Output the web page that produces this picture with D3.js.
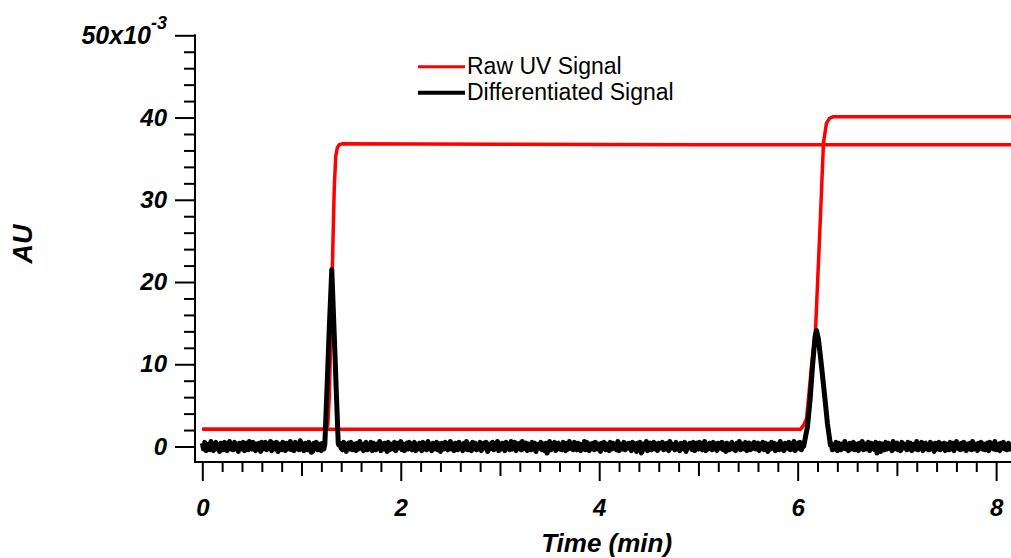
<!DOCTYPE html>
<html>
<head>
<meta charset="utf-8">
<script src="https://cdn.jsdelivr.net/npm/d3@7"></script>
<style>
  html, body { margin: 0; padding: 0; background: #fff; }
  svg { display: block; }
  .tick text { font-family: "Liberation Sans", Arial, sans-serif; font-weight: bold; font-style: italic; font-size: 24px; fill: #000; }
</style>
</head>
<body>
<svg id="chart" width="1011" height="558"></svg>
<script>
// ---------------- data ----------------
const seriesNames = ["Raw UV Signal", "Differentiated Signal"];

// Raw UV signal, trace 1 (step near 1.3 min)
const raw1Time  = [0, 1.25, 1.265, 1.28, 1.30, 1.315, 1.33, 1.345, 1.36, 1.38, 1.41, 3.0, 5.0, 8.15];
const raw1Value = [2.1, 2.1, 2.6, 6.0, 16.0, 24.0, 31.5, 35.3, 36.3, 36.7, 36.8, 36.75, 36.7, 36.7];

// Raw UV signal, trace 2 (step near 6.2 min)
const raw2Time  = [0, 6.03, 6.06, 6.09, 6.14, 6.18, 6.22, 6.26, 6.29, 6.32, 6.36, 8.15];
const raw2Value = [2.1, 2.1, 2.6, 3.4, 9.8, 14.2, 25.2, 36.9, 39.3, 39.9, 40.1, 40.1];

// Differentiated signal: baseline noise sampled every 0.0125 min from 0 to 8.15
const noiseStart = 0, noiseStep = 0.0125;
const noiseValue = [
 0.4,-0.3,0.5,-0.5,0.2,0.3,-0.4,0.6,-0.2,-0.5,0.3,0.5,-0.3,0.1,-0.6,0.4,0.2,-0.4,0.5,-0.1,-0.5,0.3,0.6,-0.3,0.2,
 -0.4,0.5,-0.2,0.3,-0.6,0.4,0.1,-0.3,0.5,-0.5,0.2,0.4,-0.4,0.6,-0.2,-0.3,0.5,0.2,-0.5,0.3,-0.1,0.4,-0.6,0.5,-0.3,
 0.2,0.5,-0.4,0.3,-0.2,0.6,-0.5,0.1,0.4,-0.3,0.5,-0.6,0.2,0.3,-0.4,0.5,-0.2,-0.5,0.4,0.3,-0.3,0.6,-0.4,0.1,-0.5,
 0.5,-0.2,0.3,-0.4,0.7,-0.3,0.2,-0.5,0.4,0.1,-0.4,0.5,-0.3,-0.7,-0.6,0.4,-0.2,0.5,-0.4,0.2,0.3,-0.5,0.4,-0.3,0.6,
 -0.2,0.4,-0.5,0.3,0.1,-0.4,0.5,-0.3,0.6,-0.5,0.2,0.4,-0.2,-0.4,0.5,0.3,-0.6,0.2,0.4,-0.3,0.5,-0.4,0.1,0.3,-0.5,
 0.4,-0.3,0.6,-0.2,0.2,-0.5,0.3,0.5,-0.4,0.1,-0.3,0.5,-0.5,0.4,0.2,-0.4,0.3,-0.2,0.6,-0.5,0.3,-0.3,0.4,0.2,-0.6,
 0.5,-0.4,0.2,0.3,-0.3,0.5,-0.5,0.4,-0.2,0.1,0.6,-0.4,0.3,-0.5,0.2,0.4,-0.3,0.5,-0.2,-0.4,0.3,0.5,-0.5,0.2,-0.3,
 0.4,0.2,-0.5,0.5,-0.3,0.3,-0.4,0.6,-0.2,0.2,-0.5,0.4,0.1,-0.3,0.5,-0.4,0.3,-0.6,0.4,0.2,-0.3,0.5,-0.2,-0.4,0.3,
 0.6,-0.3,0.2,-0.5,0.4,0.3,-0.4,0.5,-0.2,0.1,-0.5,0.4,-0.3,0.6,-0.4,0.2,0.3,-0.5,0.5,-0.2,0.4,-0.4,0.2,-0.3,0.5,
 -0.5,0.3,0.4,-0.2,0.5,-0.6,0.2,-0.3,0.4,0.5,-0.4,0.1,-0.2,0.6,-0.5,0.3,-0.3,0.4,0.2,-0.5,0.5,-0.2,0.3,-0.4,0.6,
 -0.3,0.2,0.5,-0.5,0.3,-0.2,0.4,-0.4,0.6,-0.3,0.1,0.4,-0.5,0.3,0.2,-0.4,0.5,-0.3,0.4,-0.6,0.2,0.3,-0.2,0.5,-0.4,
 0.3,-0.5,0.4,-0.8,-0.3,0.6,-0.4,0.2,-0.2,0.5,-0.5,0.3,0.4,-0.3,0.1,-0.4,0.5,0.2,-0.5,0.4,-0.3,0.6,-0.2,0.3,-0.4,
 0.5,-0.2,-0.4,0.4,0.3,-0.5,0.2,-0.3,0.6,-0.4,0.5,0.1,-0.5,0.3,-0.2,0.4,-0.4,0.5,0.2,-0.3,0.3,-0.6,0.4,-0.2,0.5,
 -0.4,0.2,0.3,-0.5,0.5,-0.3,0.4,-0.2,0.1,-0.4,0.6,-0.5,0.3,0.2,-0.3,0.5,-0.4,0.3,-0.2,0.4,0.2,-0.5,0.5,-0.3,0.3,
 -0.6,0.4,-0.2,0.5,-0.8,-0.4,0.3,-0.3,0.6,-0.5,0.2,0.4,-0.4,0.1,0.5,-0.3,0.3,-0.5,0.4,-0.2,0.2,0.5,-0.4,0.3,-0.3,
 0.4,-0.5,0.6,-0.2,0.3,0.2,-0.4,0.5,-0.3,0.1,-0.5,0.4,0.3,-0.3,0.5,-0.6,0.2,-0.2,0.4,0.3,-0.4,0.5,-0.5,0.2,0.4,
 -0.3,0.5,-0.2,-0.4,0.3,0.6,-0.5,0.2,-0.3,0.4,0.1,-0.4,0.5,-0.3,0.3,-0.5,0.4,0.2,-0.2,0.5,-0.4,0.3,-0.6,0.4,0.2,
 -0.4,0.3,0.5,-0.3,0.2,-0.5,0.4,-0.2,0.6,-0.4,0.3,0.1,-0.3,0.5,-0.5,0.2,0.4,-0.4,0.3,-0.2,0.5,-0.3,0.2,0.4,-0.5,
 0.3,-0.2,0.5,-0.4,0.4,0.2,-0.6,0.3,-0.3,0.5,-0.2,0.4,-0.5,0.1,0.3,-0.4,0.6,-0.3,0.2,-0.5,0.4,0.3,-0.2,0.5,-0.4,
 0.2,-0.3,0.6,-0.5,0.3,0.4,-0.2,0.5,-0.4,0.1,-0.3,0.5,-0.5,0.3,0.2,-0.4,0.4,-0.2,0.5,-0.6,0.3,0.2,-0.3,0.4,-0.4,
 0.5,-0.3,0.2,-0.5,0.6,-0.2,0.3,0.4,-0.4,0.2,-0.3,0.5,-0.5,0.4,0.1,-0.4,0.3,-0.2,0.6,-0.3,0.2,-0.5,0.4,0.3,-0.3,
 0.5,-0.4,0.2,0.3,-0.5,0.4,-0.2,0.6,-0.4,0.3,-0.3,0.2,0.5,-0.5,0.4,-0.2,0.3,-0.4,0.5,-0.8,-0.3,0.4,-0.6,0.3,0.2,
 -0.4,0.5,-0.3,0.4,-0.2,0.2,-0.5,0.6,-0.3,0.3,0.4,-0.4,0.2,-0.5,0.5,-0.2,0.3,0.1,-0.4,0.5,-0.3,0.4,-0.5,0.2,0.3,
 -0.3,0.6,-0.4,0.2,-0.2,0.5,-0.5,0.3,0.4,-0.3,0.2,-0.4,0.5,-0.2,0.3,-0.6,0.4,0.2,-0.3,0.5,-0.4,0.3,-0.2,0.4,-0.5,
 0.3,0.2,-0.4,0.5,-0.3,0.4,-0.5,0.2,0.6,-0.2,0.3,-0.4,0.4,-0.3,0.5,0.1,-0.5,0.3,-0.2,0.4,-0.4,0.6,-0.3,0.2,0.3,
 -0.5,0.4,-0.2,0.5,-0.3,0.3,-0.4,0.2,0.4,-0.5,0.5,-0.2,0.3,-0.3,0.6,-0.4,0.2,0.3,-0.5,0.4,-0.2,0.5,-0.3,0.2,-0.4,
 0.4,-0.3,0.5
];
// Differentiated signal peaks
const peak1Time  = [1.235, 1.255, 1.28, 1.305, 1.33, 1.35, 1.37];
const peak1Value = [0.3, 6.5, 14.5, 21.5, 13.5, 6.8, 0.4];
const peak2Time  = [6.06, 6.10, 6.126, 6.15, 6.175, 6.19, 6.21, 6.24, 6.275, 6.30, 6.33];
const peak2Value = [0.0, 2.5, 5.8, 9.8, 13.3, 14.1, 13.0, 9.8, 5.8, 2.8, 0.2];

// axis ticks
const xMajorTicks = [0, 2, 4, 6, 8];
const xMidTicks = [1, 3, 5, 7];
const xMinorTicks = [0.2,0.4,0.6,0.8,1.2,1.4,1.6,1.8,2.2,2.4,2.6,2.8,3.2,3.4,3.6,3.8,4.2,4.4,4.6,4.8,5.2,5.4,5.6,5.8,6.2,6.4,6.6,6.8,7.2,7.4,7.6,7.8,8.2];
const yMajorTicks = [0, 10, 20, 30, 40, 50];
const yMinorTicks = [2,4,6,8,12,14,16,18,22,24,26,28,32,34,36,38,42,44,46,48];
const xTitle = "Time (min)";
const yTitle = "AU";

// ---------------- chart ----------------
const svg = d3.select("#chart");
const x = d3.scaleLinear().domain([0, 8.15]).range([202.3, 1011]);
const y = d3.scaleLinear().domain([0, 50]).range([446.5, 35.3]);

// build traces
const raw1 = raw1Time.map((t, i) => [t, raw1Value[i]]);
const raw2 = raw2Time.map((t, i) => [t, raw2Value[i]]);
const noisePts = noiseValue.map((v, i) => [noiseStart + i * noiseStep, v]);
const p1 = peak1Time.map((t, i) => [t, peak1Value[i]]);
const p2 = peak2Time.map((t, i) => [t, peak2Value[i]]);
const diff = noisePts
  .filter(d => !(d[0] >= peak1Time[0] && d[0] <= peak1Time[peak1Time.length - 1]))
  .filter(d => !(d[0] >= peak2Time[0] && d[0] <= peak2Time[peak2Time.length - 1]))
  .concat(p1, p2)
  .sort((a, b) => a[0] - b[0]);

const line = d3.line().x(d => x(d[0])).y(d => y(d[1]));

svg.append("path").datum(raw1).attr("d", line)
  .attr("fill", "none").attr("stroke", "#ff0000").attr("stroke-width", 3.5).attr("stroke-linejoin", "round");
svg.append("path").datum(raw2).attr("d", line)
  .attr("fill", "none").attr("stroke", "#ff0000").attr("stroke-width", 3.5).attr("stroke-linejoin", "round");
svg.append("path").datum(diff).attr("d", line)
  .attr("fill", "none").attr("stroke", "#000").attr("stroke-width", 5).attr("stroke-linejoin", "round");

// axes
const axisX = 195, axisY = 462;
function styleAxis(g) {
  g.select(".domain").remove();
  g.selectAll(".tick line").attr("stroke", "#000").attr("stroke-width", 2);
}
// y axis
svg.append("g").attr("transform", `translate(${axisX},0)`)
  .call(d3.axisLeft(y).tickValues(yMinorTicks).tickSize(11).tickFormat(""))
  .call(styleAxis);
const yMajor = svg.append("g").attr("transform", `translate(${axisX},0)`)
  .call(d3.axisLeft(y).tickValues(yMajorTicks).tickSize(20).tickPadding(8).tickFormat(d3.format("d")))
  .call(styleAxis);
yMajor.selectAll(".tick text").filter(d => d === 50).each(function() {
  const t = d3.select(this);
  t.text("50x10").style("font-size", "25px");
  t.append("tspan").attr("dy", "-15").style("font-size", "18px").text("-3");
});
// x axis
svg.append("g").attr("transform", `translate(0,${axisY})`)
  .call(d3.axisBottom(x).tickValues(xMinorTicks).tickSize(10).tickFormat(""))
  .call(styleAxis);
svg.append("g").attr("transform", `translate(0,${axisY})`)
  .call(d3.axisBottom(x).tickValues(xMidTicks).tickSize(14).tickFormat(""))
  .call(styleAxis);
svg.append("g").attr("transform", `translate(0,${axisY})`)
  .call(d3.axisBottom(x).tickValues(xMajorTicks).tickSize(19).tickPadding(18).tickFormat(d3.format("d")))
  .call(styleAxis);

// axis lines
svg.append("line").attr("x1", axisX).attr("x2", axisX).attr("y1", y(50) - 1).attr("y2", axisY + 1)
  .attr("stroke", "#000").attr("stroke-width", 2);
svg.append("line").attr("x1", axisX).attr("x2", 1011).attr("y1", axisY).attr("y2", axisY)
  .attr("stroke", "#000").attr("stroke-width", 2);

// titles
svg.append("text").attr("x", (x.range()[0] + x.range()[1]) / 2).attr("y", 552)
  .attr("text-anchor", "middle")
  .style("font-family", "Liberation Sans, Arial, sans-serif").style("font-weight", "bold")
  .style("font-style", "italic").style("font-size", "26px").text(xTitle);
svg.append("text").attr("transform", "translate(32,244) rotate(-90)")
  .attr("text-anchor", "middle")
  .style("font-family", "Liberation Sans, Arial, sans-serif").style("font-weight", "bold")
  .style("font-style", "italic").style("font-size", "27px").text(yTitle);

// legend
const legendColors = ["#ff0000", "#000"];
const legendWidths = [3, 4];
const lg = svg.append("g");
seriesNames.forEach((name, i) => {
  const cy = 66.7 + i * 26;
  lg.append("line").attr("x1", 418).attr("x2", 465).attr("y1", cy).attr("y2", cy)
    .attr("stroke", legendColors[i]).attr("stroke-width", legendWidths[i]);
  lg.append("text").attr("x", 467).attr("y", cy + 7.5)
    .style("font-family", "Liberation Sans, Arial, sans-serif").style("font-size", "23px")
    .attr("fill", "#000").text(name);
});
</script>
</body>
</html>
